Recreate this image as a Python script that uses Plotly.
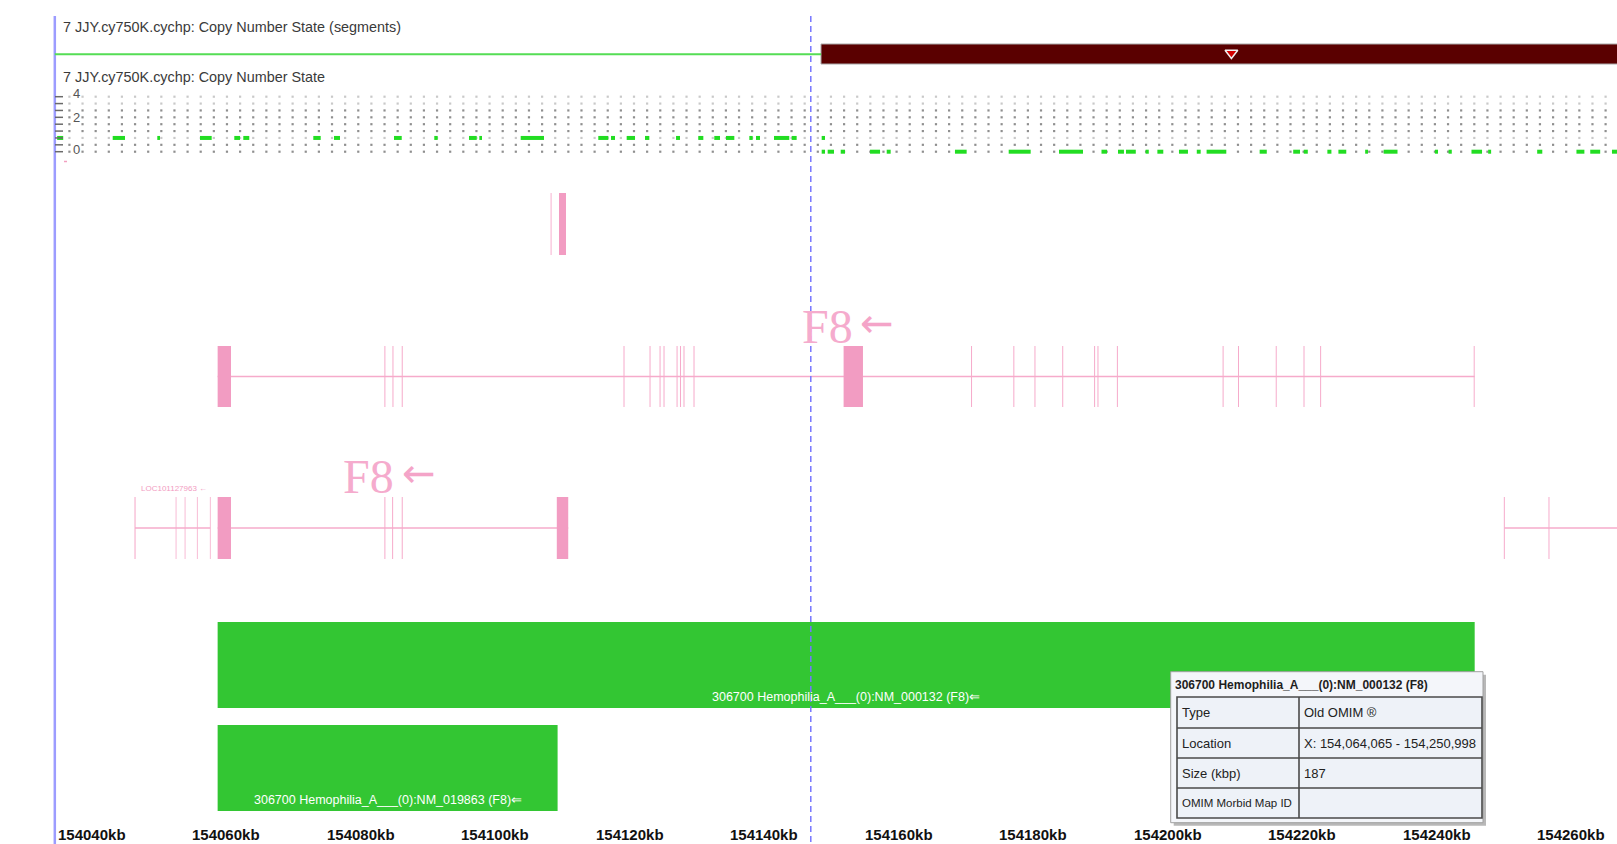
import numpy as np
import plotly.graph_objects as go

# ---------------- data (genomic positions in kb, chrX) ----------------
VIEW_START, VIEW_END = 154031.70, 154272.16
TICKS_KB = [154040, 154060, 154080, 154100, 154120, 154140, 154160, 154180, 154200, 154220, 154240, 154260]
TICK_LABELS = [f"{t}kb" for t in TICKS_KB]

# copy-number segments: (start, end, state)
CN_SEGMENTS = [(154031.70, 154153.79, 1), (154153.79, 154280.00, 0)]
SEGMENT_MARK_KB = 154214.82
CURSOR_KB = 154152.27
PANEL_EDGE_KB = 154039.85

# copy-number state calls per marker: (start, end)
CN_STATE1 = [(154040.20, 154041.10), (154048.46, 154050.29), (154055.09, 154055.49), (154061.44, 154063.18),
             (154066.54, 154067.39), (154067.88, 154068.77), (154078.29, 154079.39), (154081.37, 154082.26),
             (154090.29, 154091.44), (154096.28, 154096.79), (154101.44, 154102.59), (154102.98, 154103.38),
             (154109.13, 154112.60), (154120.67, 154122.16), (154122.56, 154123.16), (154124.89, 154126.13),
             (154127.62, 154128.26), (154132.23, 154132.82), (154135.54, 154136.29), (154137.92, 154138.77),
             (154139.66, 154140.90), (154143.13, 154143.63), (154144.12, 154144.72), (154146.80, 154149.07),
             (154149.43, 154150.17), (154153.89, 154154.38)]
CN_STATE0 = [(154153.89, 154154.38), (154154.78, 154155.72), (154156.72, 154157.36), (154161.08, 154162.57),
             (154163.56, 154164.15), (154173.71, 154175.45), (154181.70, 154184.97), (154189.18, 154192.75),
             (154195.50, 154196.32), (154197.95, 154198.84), (154199.14, 154200.60), (154202.06, 154202.53),
             (154203.81, 154204.69), (154207.02, 154208.36), (154209.67, 154210.25), (154211.13, 154214.06),
             (154219.02, 154220.08), (154224.01, 154225.02), (154225.58, 154226.18), (154229.09, 154229.69),
             (154230.73, 154231.90), (154234.71, 154235.13), (154237.46, 154239.52), (154245.08, 154245.54),
             (154247.11, 154247.59), (154250.52, 154252.09), (154253.00, 154253.44), (154260.29, 154261.05),
             (154266.13, 154267.31), (154268.18, 154269.66), (154271.41, 154272.16)]
CN_LEVELS = [4, 3.5, 3, 2.5, 2, 1.5, 1, 0.5, 0]
MARKER_STEP_KB = 1.9525
MARKER_ORIGIN_KB = 154040.07

# transcripts: span and exons (start, end)
F8_NM000132_SPAN = (154064.065, 154250.998)
F8_NM000132_EXONS = [(154064.065, 154066.05), (154088.86, 154089.01), (154090.06, 154090.21), (154091.44, 154091.59),
                     (154124.42, 154124.57), (154128.29, 154128.44), (154129.78, 154129.93), (154130.37, 154130.52),
                     (154132.31, 154132.46), (154132.82, 154132.97), (154133.34, 154133.49), (154134.83, 154134.98),
                     (154157.15, 154160.03), (154176.10, 154176.25), (154182.39, 154182.54), (154185.53, 154185.68),
                     (154189.66, 154189.81), (154194.40, 154194.55), (154194.90, 154195.05), (154197.79, 154197.94),
                     (154213.51, 154213.66), (154215.80, 154215.95), (154221.41, 154221.56), (154225.54, 154225.69),
                     (154228.01, 154228.16), (154250.85, 154250.998)]
F8_NM019863_SPAN = (154064.065, 154116.20)
F8_NM019863_EXONS = [(154064.065, 154066.05), (154088.86, 154089.01), (154090.01, 154090.16), (154091.44, 154091.59),
                     (154114.50, 154116.20)]
LEFT_GENE_SPAN = (154051.78, 154062.97)
LEFT_GENE_EXONS = [(154051.70, 154051.86), (154057.82, 154057.94), (154059.16, 154059.28), (154060.98, 154061.10),
                   (154062.91, 154063.03)]
RIGHT_GENE_SPAN = (154255.40, 154280.00)
RIGHT_GENE_EXONS = [(154255.33, 154255.48), (154261.97, 154262.12)]
F8A1_EXONS = [(154113.58, 154113.72), (154114.83, 154115.87)]

# OMIM records: (start, end, label)
OMIM = [(154064.065, 154250.998, "306700 Hemophilia_A___(0):NM_000132 (F8)\u21d0"),
        (154064.065, 154114.62, "306700 Hemophilia_A___(0):NM_019863 (F8)\u21d0")]

TOOLTIP_TITLE = "306700 Hemophilia_A___(0):NM_000132 (F8)"
TOOLTIP_ROWS = [("Type", "Old OMIM \u00ae"), ("Location", "X: 154,064,065 - 154,250,998"),
                ("Size (kbp)", "187"), ("OMIM Morbid Map ID", "")]

# ---------------- styling ----------------
W, H = 1617, 844
PINK = "#f29cc2"
PINK_THIN = "#f6abcb"
GREEN_BAR = "#33c633"
CN_GREEN = "#22dd22"
SANS = "Liberation Sans, Arial, sans-serif"


def cn_y(v):
    return 151.7 - v * 13.75


def px(xpix):
    return xpix / W


fig = go.Figure()
shapes = []
ann = []

# panel edge
shapes.append(dict(type="line", xref="x", yref="y", x0=PANEL_EDGE_KB, x1=PANEL_EDGE_KB, y0=16, y1=H,
                   line=dict(color="#9c9cff", width=2.5)))

# ---- segment track ----
ann.append(dict(text="7 JJY.cy750K.cychp: Copy Number State (segments)", xref="paper", yref="y", x=px(61), y=27,
                xanchor="left", yanchor="middle", showarrow=False, font=dict(family=SANS, size=14.4, color="#3a3a3a")))
for s, e, state in CN_SEGMENTS:
    if state == 0:
        shapes.append(dict(type="rect", xref="x", yref="y", x0=s, x1=e, y0=44, y1=64, layer="below",
                           fillcolor="#5a0000", line=dict(color="#a8a8a8", width=1)))
    else:
        shapes.append(dict(type="line", xref="x", yref="y", x0=max(s, PANEL_EDGE_KB), x1=e, y0=54.3, y1=54.3,
                           line=dict(color="#55dd55", width=2)))
fig.add_trace(go.Scatter(x=[SEGMENT_MARK_KB], y=[53], mode="markers", hoverinfo="skip",
                         marker=dict(symbol="triangle-down", size=11, color="#d40000",
                                     line=dict(color="#f0f0f0", width=1.5))))

# ---- copy number state track ----
ann.append(dict(text="7 JJY.cy750K.cychp: Copy Number State", xref="paper", yref="y", x=px(61), y=77,
                xanchor="left", yanchor="middle", showarrow=False, font=dict(family=SANS, size=14.4, color="#3a3a3a")))
cols = MARKER_ORIGIN_KB + MARKER_STEP_KB * np.arange(1, 119)
for lv in CN_LEVELS:
    light = lv in (4, 3.5, 1)
    fig.add_trace(go.Scatter(x=cols, y=[cn_y(lv)] * len(cols), mode="markers", hoverinfo="skip",
                             marker=dict(symbol="square", size=2.2, color="#c9c9c9" if light else "#8f8f8f",
                                         line=dict(width=0))))
    shapes.append(dict(type="line", xref="paper", yref="y", x0=px(55), x1=px(63), y0=cn_y(lv), y1=cn_y(lv),
                       line=dict(color="#6a6a6a", width=1.5)))
for lbl, yy in (("4", 93), ("2", 117), ("0", 149)):
    ann.append(dict(text=lbl, xref="paper", yref="y", x=px(71), y=yy, showarrow=False,
                    font=dict(family=SANS, size=13, color="#555555")))

for calls, lv in ((CN_STATE1, 1), (CN_STATE0, 0)):
    xs, ys = [], []
    for s, e in calls:
        xs += [s, e, None]
        ys += [cn_y(lv), cn_y(lv), None]
    fig.add_trace(go.Scatter(x=xs, y=ys, mode="lines", hoverinfo="skip",
                             line=dict(color=CN_GREEN, width=4)))
shapes.append(dict(type="line", xref="paper", yref="y", x0=px(64), x1=px(67), y0=161.5, y1=161.5,
                   line=dict(color="#f2a0c0", width=1.5)))


# ---- gene tracks ----
def draw_gene(span, exons, yc, half=31):
    shapes.append(dict(type="line", xref="x", yref="y", x0=span[0], x1=span[1], y0=yc, y1=yc,
                       line=dict(color=PINK_THIN, width=1.6)))
    for s, e in exons:
        thick = (e - s) > 0.5
        shapes.append(dict(type="rect", xref="x", yref="y", x0=s, x1=e, y0=yc - half, y1=yc + half,
                           fillcolor=PINK if thick else PINK_THIN, line=dict(width=0)))


draw_gene((F8A1_EXONS[0][0], F8A1_EXONS[0][0]), F8A1_EXONS, 224, half=31)
draw_gene(F8_NM000132_SPAN, F8_NM000132_EXONS, 376.5, half=30.5)
draw_gene(F8_NM019863_SPAN, F8_NM019863_EXONS, 528, half=31)
draw_gene(LEFT_GENE_SPAN, LEFT_GENE_EXONS, 528, half=31)
draw_gene(RIGHT_GENE_SPAN, RIGHT_GENE_EXONS, 528, half=31)

for (xf, xa, yy) in ((800, 858, 326), (341, 400, 476)):
    ann.append(dict(text="F8", xref="paper", yref="y", x=px(xf), y=yy, xanchor="left", yanchor="middle",
                    showarrow=False, font=dict(family="Liberation Serif, Times New Roman, serif", size=48,
                                               color="#f5abcd")))
    ann.append(dict(text="\u2190", xref="paper", yref="y", x=px(xa), y=yy - 3, xanchor="left", yanchor="middle",
                    showarrow=False, font=dict(family="DejaVu Sans, sans-serif", size=40, color="#f4a4c8")))
ann.append(dict(text="LOC101127963 \u2190", xref="paper", yref="y", x=px(139), y=488, xanchor="left", yanchor="middle",
                showarrow=False, font=dict(family=SANS, size=8, color="#f29cc2")))

# ---- OMIM track ----
for (s, e, lbl), (y0, y1) in zip(OMIM, ((622, 708), (725, 811))):
    shapes.append(dict(type="rect", xref="x", yref="y", x0=s, x1=e, y0=y0, y1=y1,
                       fillcolor=GREEN_BAR, line=dict(width=0)))
    ann.append(dict(text=lbl, xref="x", yref="y", x=(s + e) / 2, y=y1 - 11, showarrow=False,
                    font=dict(family=SANS, size=12.5, color="white")))

# cursor
shapes.append(dict(type="line", xref="x", yref="y", x0=CURSOR_KB, x1=CURSOR_KB, y0=16, y1=H,
                   line=dict(color="#7777ff", width=1.5, dash="6px,4px")))

# ---- axis labels ----
for t, lbl in zip(TICKS_KB, TICK_LABELS):
    ann.append(dict(text=lbl, xref="x", yref="y", x=t, y=834.5, xanchor="left", yanchor="middle",
                    showarrow=False, font=dict(family=SANS, size=15, color="#111111", weight="bold")))

# ---- info popup ----
tx0, tx1 = 1170.7, 1483
shapes.append(dict(type="rect", xref="paper", yref="y", x0=px(tx0 + 3), x1=px(tx1 + 3), y0=674.7, y1=825.7,
                   fillcolor="#7d7d7d", opacity=0.55, line=dict(width=0)))
shapes.append(dict(type="rect", xref="paper", yref="y", x0=px(tx0), x1=px(tx1), y0=671.7, y1=822.7,
                   fillcolor="#f4f6fa", line=dict(color="#a0a0a0", width=1)))
ann.append(dict(text="<b>" + TOOLTIP_TITLE + "</b>", xref="paper", yref="y", x=px(1173), y=685,
                xanchor="left", yanchor="middle", showarrow=False, font=dict(family=SANS, size=12, color="#1e1e1e")))
row_edges = [697, 728, 758, 788, 818]
shapes.append(dict(type="rect", xref="paper", yref="y", x0=px(1177), x1=px(1482), y0=697, y1=818,
                   fillcolor="#eef2f8", line=dict(color="#4a4a4a", width=1.6)))
for yy in row_edges[1:-1]:
    shapes.append(dict(type="line", xref="paper", yref="y", x0=px(1177), x1=px(1482), y0=yy, y1=yy,
                       line=dict(color="#4a4a4a", width=1.6)))
shapes.append(dict(type="line", xref="paper", yref="y", x0=px(1299), x1=px(1299), y0=697, y1=818,
                   line=dict(color="#4a4a4a", width=1.6)))
for (k, v), ya, yb in zip(TOOLTIP_ROWS, row_edges[:-1], row_edges[1:]):
    yc = (ya + yb) / 2
    ann.append(dict(text=k, xref="paper", yref="y", x=px(1180), y=yc, xanchor="left", yanchor="middle",
                    showarrow=False, font=dict(family=SANS, size=13 if len(k) < 14 else 11.5, color="#222222")))
    if v:
        ann.append(dict(text=v, xref="paper", yref="y", x=px(1302), y=yc, xanchor="left", yanchor="middle",
                        showarrow=False, font=dict(family=SANS, size=13, color="#222222")))

fig.update_layout(
    width=W, height=H, margin=dict(l=0, r=0, t=0, b=0),
    paper_bgcolor="white", plot_bgcolor="white", showlegend=False,
    xaxis=dict(range=[VIEW_START, VIEW_END], visible=False, fixedrange=True),
    yaxis=dict(range=[H, 0], visible=False, fixedrange=True),
    shapes=shapes, annotations=ann,
)
fig.write_html("out.html")
